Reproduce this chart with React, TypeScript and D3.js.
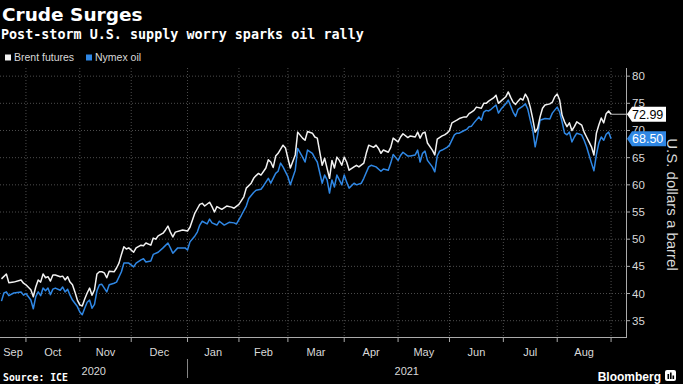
import { useEffect } from 'react';
import * as d3 from 'd3';

// Brent futures, USD/bbl
const brent: [string, number][] = [
  ['2020-09-15', 42.7], ['2020-09-17', 43.6], ['2020-09-18', 42.0], ['2020-09-22', 42.1], ['2020-09-25', 42.5],
  ['2020-09-28', 41.9], ['2020-09-29', 41.6], ['2020-10-01', 40.7], ['2020-10-02', 39.4], ['2020-10-05', 41.2],
  ['2020-10-06', 42.5], ['2020-10-07', 42.1], ['2020-10-08', 43.6], ['2020-10-09', 42.9], ['2020-10-12', 43.1],
  ['2020-10-13', 42.3], ['2020-10-14', 43.4], ['2020-10-15', 43.4], ['2020-10-19', 43.1], ['2020-10-20', 43.2],
  ['2020-10-21', 42.5], ['2020-10-22', 43.1], ['2020-10-23', 42.1], ['2020-10-26', 41.6], ['2020-10-27', 40.3],
  ['2020-10-28', 38.8], ['2020-10-29', 37.9], ['2020-10-30', 37.7], ['2020-11-02', 39.0], ['2020-11-03', 40.1],
  ['2020-11-04', 41.0], ['2020-11-05', 39.7], ['2020-11-06', 40.7], ['2020-11-09', 43.6], ['2020-11-10', 44.0],
  ['2020-11-11', 44.0], ['2020-11-12', 43.8], ['2020-11-13', 42.9], ['2020-11-16', 44.1], ['2020-11-18', 44.0],
  ['2020-11-19', 44.7], ['2020-11-20', 45.6], ['2020-11-23', 47.2], ['2020-11-24', 48.6], ['2020-11-25', 48.2],
  ['2020-11-26', 48.4], ['2020-11-30', 47.6], ['2020-12-01', 48.4], ['2020-12-03', 48.9], ['2020-12-04', 48.8],
  ['2020-12-07', 49.3], ['2020-12-09', 48.9], ['2020-12-10', 50.2], ['2020-12-11', 50.0], ['2020-12-14', 50.6],
  ['2020-12-16', 51.1], ['2020-12-17', 51.7], ['2020-12-18', 52.4], ['2020-12-21', 51.3], ['2020-12-22', 50.4],
  ['2020-12-23', 51.3], ['2020-12-28', 51.7], ['2020-12-30', 51.5], ['2020-12-31', 52.2], ['2021-01-04', 54.8],
  ['2021-01-05', 55.6], ['2021-01-06', 56.4], ['2021-01-07', 56.6], ['2021-01-08', 56.1], ['2021-01-12', 56.8],
  ['2021-01-13', 56.0], ['2021-01-14', 55.0], ['2021-01-15', 56.0], ['2021-01-19', 55.5], ['2021-01-21', 56.1],
  ['2021-01-25', 55.9], ['2021-01-26', 55.7], ['2021-01-28', 56.4], ['2021-02-01', 57.8], ['2021-02-02', 59.4],
  ['2021-02-04', 60.3], ['2021-02-05', 61.2], ['2021-02-08', 61.7], ['2021-02-09', 62.1], ['2021-02-10', 61.8],
  ['2021-02-12', 63.1], ['2021-02-15', 64.6], ['2021-02-16', 64.2], ['2021-02-17', 63.2], ['2021-02-18', 65.3],
  ['2021-02-19', 65.8], ['2021-02-23', 67.3], ['2021-02-24', 66.8], ['2021-02-25', 64.9], ['2021-02-26', 63.1],
  ['2021-03-02', 65.5], ['2021-03-03', 69.7], ['2021-03-05', 68.6], ['2021-03-08', 68.2], ['2021-03-09', 69.8],
  ['2021-03-11', 69.5], ['2021-03-12', 68.8], ['2021-03-15', 68.6], ['2021-03-17', 63.6], ['2021-03-18', 64.9],
  ['2021-03-22', 61.2], ['2021-03-23', 64.5], ['2021-03-24', 63.1], ['2021-03-25', 65.1], ['2021-03-26', 64.5],
  ['2021-03-29', 63.6], ['2021-03-30', 65.1], ['2021-03-31', 64.2], ['2021-04-01', 62.7], ['2021-04-05', 63.3],
  ['2021-04-06', 63.6], ['2021-04-07', 63.3], ['2021-04-09', 64.0], ['2021-04-12', 65.8], ['2021-04-13', 67.3],
  ['2021-04-15', 66.9], ['2021-04-16', 67.3], ['2021-04-19', 66.7], ['2021-04-20', 65.8], ['2021-04-21', 66.4],
  ['2021-04-23', 66.0], ['2021-04-26', 66.9], ['2021-04-27', 68.6], ['2021-04-29', 67.9], ['2021-04-30', 68.8],
  ['2021-05-03', 69.4], ['2021-05-05', 68.7], ['2021-05-06', 69.0], ['2021-05-10', 68.8], ['2021-05-11', 69.7],
  ['2021-05-12', 68.6], ['2021-05-13', 69.5], ['2021-05-14', 69.7], ['2021-05-17', 67.7], ['2021-05-19', 66.4],
  ['2021-05-20', 65.5], ['2021-05-21', 68.4], ['2021-05-25', 69.0], ['2021-05-26', 69.2], ['2021-05-27', 69.5],
  ['2021-05-28', 70.0], ['2021-05-31', 71.4], ['2021-06-02', 71.9], ['2021-06-03', 72.2], ['2021-06-07', 72.5],
  ['2021-06-08', 72.5], ['2021-06-09', 73.1], ['2021-06-10', 73.4], ['2021-06-11', 73.7], ['2021-06-14', 74.3],
  ['2021-06-16', 74.1], ['2021-06-17', 75.0], ['2021-06-18', 75.0], ['2021-06-21', 75.4], ['2021-06-23', 76.0],
  ['2021-06-24', 76.5], ['2021-06-25', 75.0], ['2021-06-28', 75.4], ['2021-06-30', 76.2], ['2021-07-01', 77.1],
  ['2021-07-02', 76.1], ['2021-07-05', 75.2], ['2021-07-06', 74.8], ['2021-07-07', 75.4], ['2021-07-08', 75.9],
  ['2021-07-09', 75.6], ['2021-07-12', 76.7], ['2021-07-13', 75.9], ['2021-07-14', 74.3], ['2021-07-15', 72.2],
  ['2021-07-16', 69.7], ['2021-07-19', 70.4], ['2021-07-20', 72.5], ['2021-07-21', 74.1], ['2021-07-22', 74.7],
  ['2021-07-26', 74.9], ['2021-07-27', 75.2], ['2021-07-28', 76.2], ['2021-07-29', 76.7], ['2021-07-30', 75.6],
  ['2021-08-02', 72.8], ['2021-08-03', 71.6], ['2021-08-04', 70.7], ['2021-08-05', 71.4], ['2021-08-06', 70.0],
  ['2021-08-09', 70.7], ['2021-08-10', 71.6], ['2021-08-12', 71.0], ['2021-08-13', 69.7], ['2021-08-16', 68.8],
  ['2021-08-17', 67.9], ['2021-08-18', 67.0], ['2021-08-19', 65.5], ['2021-08-20', 69.5], ['2021-08-23', 71.0],
  ['2021-08-24', 72.3], ['2021-08-25', 71.4], ['2021-08-26', 73.1], ['2021-08-27', 73.6], ['2021-08-30', 72.99],
];

// Nymex WTI, USD/bbl
const nymex: [string, number][] = [
  ['2020-09-15', 38.6], ['2020-09-16', 40.1], ['2020-09-17', 40.3], ['2020-09-18', 39.6], ['2020-09-22', 40.1],
  ['2020-09-25', 40.3], ['2020-09-28', 39.7], ['2020-09-29', 40.0], ['2020-10-01', 38.8], ['2020-10-02', 37.2],
  ['2020-10-05', 39.4], ['2020-10-06', 40.3], ['2020-10-07', 39.6], ['2020-10-08', 41.0], ['2020-10-09', 40.5],
  ['2020-10-12', 41.0], ['2020-10-13', 39.8], ['2020-10-14', 40.8], ['2020-10-15', 41.0], ['2020-10-19', 40.6],
  ['2020-10-20', 41.2], ['2020-10-21', 40.3], ['2020-10-22', 40.8], ['2020-10-23', 39.7], ['2020-10-26', 38.8],
  ['2020-10-28', 37.6], ['2020-10-29', 36.6], ['2020-10-30', 36.1], ['2020-11-02', 37.3], ['2020-11-03', 38.4],
  ['2020-11-04', 38.8], ['2020-11-05', 37.3], ['2020-11-06', 38.0], ['2020-11-09', 40.5], ['2020-11-10', 41.6],
  ['2020-11-11', 41.7], ['2020-11-13', 40.3], ['2020-11-16', 41.6], ['2020-11-18', 41.9], ['2020-11-19', 42.1],
  ['2020-11-23', 44.0], ['2020-11-24', 45.6], ['2020-11-26', 45.6], ['2020-11-30', 44.9], ['2020-12-01', 45.6],
  ['2020-12-03', 46.2], ['2020-12-04', 46.4], ['2020-12-07', 45.8], ['2020-12-09', 46.0], ['2020-12-10', 47.2],
  ['2020-12-14', 47.6], ['2020-12-16', 48.4], ['2020-12-18', 49.3], ['2020-12-21', 48.4], ['2020-12-22', 47.4],
  ['2020-12-24', 48.4], ['2020-12-29', 48.4], ['2020-12-30', 48.0], ['2020-12-31', 49.5], ['2021-01-04', 50.6],
  ['2021-01-05', 51.3], ['2021-01-06', 52.6], ['2021-01-07', 53.3], ['2021-01-11', 52.8], ['2021-01-12', 53.7],
  ['2021-01-13', 53.0], ['2021-01-15', 52.6], ['2021-01-18', 53.3], ['2021-01-20', 52.6], ['2021-01-22', 53.1],
  ['2021-01-26', 53.0], ['2021-01-27', 52.8], ['2021-01-29', 54.4], ['2021-02-02', 56.1], ['2021-02-03', 57.5],
  ['2021-02-05', 58.6], ['2021-02-08', 59.0], ['2021-02-10', 59.2], ['2021-02-11', 59.8], ['2021-02-12', 60.5],
  ['2021-02-15', 61.2], ['2021-02-16', 60.3], ['2021-02-18', 62.1], ['2021-02-19', 62.5], ['2021-02-22', 64.0],
  ['2021-02-23', 63.3], ['2021-02-25', 61.5], ['2021-02-26', 60.0], ['2021-03-02', 62.7], ['2021-03-03', 66.7],
  ['2021-03-05', 65.1], ['2021-03-08', 64.2], ['2021-03-09', 66.4], ['2021-03-11', 65.8], ['2021-03-12', 64.9],
  ['2021-03-15', 64.2], ['2021-03-17', 60.3], ['2021-03-18', 61.8], ['2021-03-19', 60.9], ['2021-03-22', 58.5],
  ['2021-03-23', 60.9], ['2021-03-24', 59.6], ['2021-03-25', 61.8], ['2021-03-26', 60.9], ['2021-03-29', 60.0],
  ['2021-03-30', 61.8], ['2021-03-31', 60.5], ['2021-04-01', 59.4], ['2021-04-05', 60.3], ['2021-04-06', 60.0],
  ['2021-04-08', 60.3], ['2021-04-09', 61.2], ['2021-04-13', 63.3], ['2021-04-14', 63.6], ['2021-04-16', 63.3],
  ['2021-04-20', 62.5], ['2021-04-21', 62.9], ['2021-04-23', 62.7], ['2021-04-26', 64.0], ['2021-04-27', 65.6],
  ['2021-04-29', 64.5], ['2021-04-30', 65.4], ['2021-05-03', 66.0], ['2021-05-05', 65.3], ['2021-05-06', 65.3],
  ['2021-05-10', 65.5], ['2021-05-11', 66.4], ['2021-05-12', 64.2], ['2021-05-13', 65.8], ['2021-05-14', 66.2],
  ['2021-05-17', 64.5], ['2021-05-19', 63.3], ['2021-05-20', 62.4], ['2021-05-21', 65.3], ['2021-05-24', 66.2],
  ['2021-05-25', 66.4], ['2021-05-27', 66.9], ['2021-05-28', 67.3], ['2021-06-01', 69.2], ['2021-06-02', 69.5],
  ['2021-06-03', 69.5], ['2021-06-07', 70.0], ['2021-06-08', 70.2], ['2021-06-09', 70.7], ['2021-06-10', 70.8],
  ['2021-06-11', 71.4], ['2021-06-15', 72.5], ['2021-06-16', 71.9], ['2021-06-17', 73.4], ['2021-06-18', 73.7],
  ['2021-06-21', 73.6], ['2021-06-22', 73.9], ['2021-06-24', 74.7], ['2021-06-25', 73.2], ['2021-06-28', 73.9],
  ['2021-06-30', 74.9], ['2021-07-01', 75.6], ['2021-07-02', 74.5], ['2021-07-05', 73.4], ['2021-07-06', 72.6],
  ['2021-07-07', 73.9], ['2021-07-09', 74.5], ['2021-07-12', 74.9], ['2021-07-13', 73.9], ['2021-07-14', 71.9],
  ['2021-07-15', 70.1], ['2021-07-16', 67.0], ['2021-07-19', 69.2], ['2021-07-20', 71.9], ['2021-07-22', 72.2],
  ['2021-07-26', 72.1], ['2021-07-27', 73.2], ['2021-07-29', 74.3], ['2021-07-30', 73.4], ['2021-08-02', 71.6],
  ['2021-08-03', 69.5], ['2021-08-04', 69.2], ['2021-08-05', 69.7], ['2021-08-06', 67.9], ['2021-08-09', 68.8],
  ['2021-08-10', 69.5], ['2021-08-12', 69.2], ['2021-08-13', 68.2], ['2021-08-16', 67.0], ['2021-08-17', 65.5],
  ['2021-08-18', 64.0], ['2021-08-19', 62.6], ['2021-08-20', 65.5], ['2021-08-23', 67.7], ['2021-08-24', 68.8],
  ['2021-08-25', 68.2], ['2021-08-26', 69.3], ['2021-08-27', 69.7], ['2021-08-30', 68.5],
];

const lastLabels = ['72.99', '68.50'];
const monthLabels = ['Sep', 'Oct', 'Nov', 'Dec', 'Jan', 'Feb', 'Mar', 'Apr', 'May', 'Jun', 'Jul', 'Aug'];
const yearLabels = ['2020', '2021'];
const yTicks = [35, 40, 45, 50, 55, 60, 65, 70, 75, 80];

const W = 683;
const H = 384;
const plot = { left: 0, right: 626, top: 68, bottom: 337 };
const WHITE = '#f2f2f2';
const BLUE = '#2f87e4';
const GRID = '#4d4d4d';
const TXT = '#d9d9d9';
const SANS = '"Liberation Sans", Arial, sans-serif';

const fmt = d3.timeFormat('%Y-%m-%d');
const parse = d3.timeParse('%Y-%m-%d');

// trading-day (weekday) index, the x axis skips weekends
const startDay = parse('2020-09-15') as Date;
const tradeIdx = new Map<string, number>();
const monthFirst: number[] = [];
{
  let n = 0;
  let prevMonth = startDay.getMonth();
  for (let t = startDay; t < new Date(2021, 9, 1); t = d3.timeDay.offset(t, 1)) {
    const g = t.getDay();
    if (g === 0 || g === 6) continue;
    if (t.getMonth() !== prevMonth) {
      monthFirst.push(n);
      prevMonth = t.getMonth();
    }
    tradeIdx.set(fmt(t), n);
    n++;
  }
}

export default function App() {
  useEffect(() => {
    document.body.style.margin = '0';
    document.body.style.background = '#000';
  }, []);

  const x = d3.scaleLinear().domain([-0.6, 255.1]).range([plot.left, plot.right]);
  const y = d3.scaleLinear().domain([81.5, 32]).range([plot.top, plot.bottom]);

  const line = d3.line<[string, number]>()
    .x(d => x(tradeIdx.get(d[0]) ?? 0))
    .y(d => y(d[1]))
    .curve(d3.curveLinear);

  // month boundaries (Oct 2020 .. Sep 2021)
  const bounds = monthFirst.slice(0, 12).map(n => x(n - 2));
  const edges = [plot.left, ...bounds];
  const monthCenters = monthLabels.map((_, i) => (edges[i] + edges[i + 1]) / 2);
  const janX = bounds[3];
  const yearCenters = [(plot.left + janX) / 2, (janX + plot.right) / 2];

  const lastB = brent[brent.length - 1];
  const lastN = nymex[nymex.length - 1];
  const lbX = x(tradeIdx.get(lastB[0]) ?? 0);

  const tag = (yc: number) => {
    const x0 = plot.right + 1;
    const x1 = 666;
    return `M${x0},${yc} L${x0 + 5},${yc - 7.5} L${x1},${yc - 7.5} L${x1},${yc + 7.5} L${x0 + 5},${yc + 7.5} Z`;
  };

  return (
    <div style={{ position: 'absolute', left: 0, top: 0 }}>
      <svg width={W} height={H} style={{ display: 'block', background: '#000' }}>
        <rect width={W} height={H} fill="#000" />

        {/* header */}
        <text x={2} y={21} fill="#fff" fontFamily='"DejaVu Sans", sans-serif' fontWeight="bold" fontSize={18.5}>
          Crude Surges
        </text>
        <text x={1} y={39} fill="#fff" fontFamily='"DejaVu Sans Mono", monospace' fontWeight="bold" fontSize={13.4}>
          Post-storm U.S. supply worry sparks oil rally
        </text>

        {/* legend */}
        <rect x={5} y={54.5} width={6} height={6} fill={WHITE} />
        <text x={14} y={61} fill={TXT} fontFamily={SANS} fontSize={10.5}>Brent futures</text>
        <rect x={86} y={54.5} width={6} height={6} fill={BLUE} />
        <text x={95} y={61} fill={TXT} fontFamily={SANS} fontSize={10.5}>Nymex oil</text>

        {/* grid */}
        {yTicks.map(v => (
          <line key={'h' + v} x1={plot.left} x2={plot.right} y1={y(v)} y2={y(v)}
            stroke={GRID} strokeWidth={1} strokeDasharray="1,2" />
        ))}
        {bounds.map((bx, i) => (
          <line key={'v' + i} x1={bx} x2={bx} y1={plot.top} y2={plot.bottom}
            stroke={GRID} strokeWidth={1} strokeDasharray="1,2" />
        ))}

        {/* series */}
        <path d={line(nymex) ?? ''} fill="none" stroke={BLUE} strokeWidth={1.5} strokeLinejoin="round" />
        <path d={line(brent) ?? ''} fill="none" stroke={WHITE} strokeWidth={1.5} strokeLinejoin="round" />

        {/* right axis */}
        <line x1={plot.right + 0.5} x2={plot.right + 0.5} y1={plot.top} y2={plot.bottom} stroke="#aaa" />
        {yTicks.map(v => (
          <g key={'t' + v}>
            <line x1={plot.right} x2={plot.right + 4} y1={y(v)} y2={y(v)} stroke="#aaa" />
            <text x={plot.right + 6} y={y(v) + 4} fill={TXT} fontFamily={SANS} fontSize={11.5}>{v}</text>
          </g>
        ))}
        <text transform={`translate(667,${(plot.top + plot.bottom) / 2 + 2}) rotate(90)`} textAnchor="middle"
          fill={TXT} fontFamily={SANS} fontSize={15}>
          U.S. dollars a barrel
        </text>

        {/* last value tags */}
        <line x1={lbX} x2={plot.right + 2} y1={y(lastB[1])} y2={y(lastB[1])} stroke="#bbb" strokeWidth={1} />
        <path d={tag(y(lastB[1]))} fill="#fff" />
        <text x={632} y={y(lastB[1]) + 4.5} fill="#000" fontFamily={SANS} fontSize={12.5}>{lastLabels[0]}</text>
        <path d={tag(y(lastN[1]))} fill={BLUE} />
        <text x={632} y={y(lastN[1]) + 4.5} fill="#fff" fontFamily={SANS} fontSize={12.5}>{lastLabels[1]}</text>

        {/* bottom axis */}
        <line x1={plot.left} x2={plot.right + 1} y1={plot.bottom + 0.5} y2={plot.bottom + 0.5} stroke="#aaa" />
        {bounds.map((bx, i) => (
          <line key={'bt' + i} x1={bx} x2={bx} y1={plot.bottom} y2={plot.bottom + 5} stroke="#aaa" />
        ))}
        {monthLabels.map((m, i) => (
          <text key={m + i} x={monthCenters[i]} y={356} textAnchor="middle" fill={TXT} fontFamily={SANS} fontSize={11}>
            {m}
          </text>
        ))}
        <line x1={janX} x2={janX} y1={359} y2={378} stroke="#888" />
        {yearLabels.map((yl, i) => (
          <text key={yl} x={yearCenters[i]} y={375} textAnchor="middle" fill={TXT} fontFamily={SANS} fontSize={11}>
            {yl}
          </text>
        ))}

        {/* footer */}
        <text x={3} y={381} fill="#fff" fontFamily='"DejaVu Sans Mono", monospace' fontWeight="bold" fontSize={9.8}>
          Source: ICE
        </text>
        <text x={661} y={381} textAnchor="end" fill="#fff" fontFamily={SANS} fontWeight="bold" fontSize={12}>
          Bloomberg
        </text>
        <rect x={665} y={370} width={11} height={11} rx={2} fill="#fff" />
        <rect x={667.5} y={374} width={1.6} height={5} fill="#000" />
        <rect x={670} y={372.5} width={1.6} height={6.5} fill="#000" />
        <rect x={672.5} y={375.5} width={1.6} height={3.5} fill="#000" />
      </svg>
    </div>
  );
}
